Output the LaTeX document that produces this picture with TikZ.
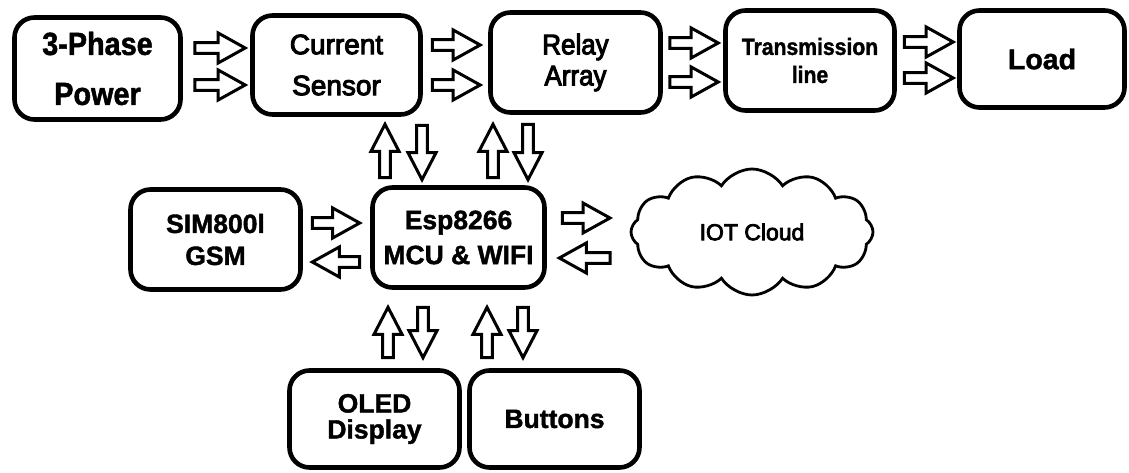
\documentclass[tikz,border=0pt]{standalone}
\usepackage{fontspec}
\setmainfont{Liberation Sans}
\newfontface\rfc{Liberation Sans}[FakeBold=3.5]
\newfontface\rfcn{Liberation Sans}[FakeBold=3.5, FakeStretch=0.91]
\newfontface\bfc{Liberation Sans Bold}[FakeBold=1.5]
\newfontface\bfcn{Liberation Sans Bold}[FakeBold=1.5, FakeStretch=0.9]
\usetikzlibrary{calc,shapes.symbols}
\tikzset{
  box/.style={draw, line width=4.6pt, rounded corners=20pt, inner sep=0pt, align=center},
  barrow/.style={draw, line width=3pt, fill=white, line join=miter, miter limit=10},
  fb/.style={font=\bfc\fontsize{#1}{#1}\selectfont},
  fbn/.style={font=\bfcn\fontsize{#1}{#1}\selectfont},
  fr/.style={font=\rfc\fontsize{#1}{#1}\selectfont},
  frn/.style={font=\rfcn\fontsize{#1}{#1}\selectfont},
}
% horizontal hollow block arrow: tip at x of #2, y of #1
\newcommand\harr[2]{\draw[barrow] let \p1=#1, \p2=#2, \n1={sign(\x2-\x1)*27pt} in
  (\x1,{\y1-5.3pt}) -- ({\x2-(\n1)},{\y1-5.3pt}) -- ({\x2-(\n1)},{\y1-15pt}) -- (\x2,\y1)
  -- ({\x2-(\n1)},{\y1+15pt}) -- ({\x2-(\n1)},{\y1+5.3pt}) -- (\x1,{\y1+5.3pt}) -- cycle;}
% vertical hollow block arrow: tip at y of #2, x of #1
\newcommand\varr[2]{\draw[barrow] let \p1=#1, \p2=#2, \n1={sign(\y2-\y1)*27pt} in
  ({\x1-5.3pt},\y1) -- ({\x1-5.3pt},{\y2-(\n1)}) -- ({\x1-14pt},{\y2-(\n1)}) -- (\x1,\y2)
  -- ({\x1+14pt},{\y2-(\n1)}) -- ({\x1+5.3pt},{\y2-(\n1)}) -- ({\x1+5.3pt},\y1) -- cycle;}
\begin{document}
\begin{tikzpicture}[x=1pt,y=1pt]
\useasboundingbox[fill=white] (0,0) rectangle (1129,-473);
% top row
\node[box, minimum width=166pt, minimum height=102pt, fbn=32, execute at begin node={\setlength{\baselineskip}{50pt}}] (pw) at (97.5,-68.5) {3-Phase\\Power};
\node[box, minimum width=168pt, minimum height=99pt, fr=28, execute at begin node={\setlength{\baselineskip}{41pt}}] (cs) at (336.5,-65) {Current\\Sensor};
\node[box, minimum width=170pt, minimum height=100pt, frn=28.5, execute at begin node={\setlength{\baselineskip}{31pt}}] (ra) at (575.5,-62.5) {Relay\\Array};
\node[box, minimum width=169pt, minimum height=100pt, fbn=23.5, execute at begin node={\setlength{\baselineskip}{28pt}}] (tl) at (810,-60.5) {Transmission\\line};
\node[box, minimum width=165pt, minimum height=97pt, fb=28.5] (ld) at (1042,-59) {Load};
% middle row
\node[box, minimum width=170pt, minimum height=100pt, fb=26.5, execute at begin node={\setlength{\baselineskip}{32pt}}] (sim) at (215.5,-239.5) {SIM800l\\GSM};
\node[box, minimum width=172pt, minimum height=100pt, fb=26.5, execute at begin node={\setlength{\baselineskip}{35pt}}] (esp) at (458.5,-237.5) {Esp8266\\MCU \& WIFI};
\node[cloud, draw, line width=2.8pt, cloud puffs=12, cloud puff arc=115, aspect=1.9, minimum width=242pt, minimum height=126pt, inner sep=0pt, fr=23] (cloud) at (752,-232) {IOT Cloud};
% bottom row
\node[box, minimum width=170pt, minimum height=97pt, fb=26.5, execute at begin node={\setlength{\baselineskip}{26pt}}] (oled) at (374.5,-419) {OLED\\Display};
\node[box, minimum width=170pt, minimum height=97pt, fb=26.5] (btn) at (554.5,-419) {Buttons};
% top row arrows
\harr{($(pw.east)+(12,20.5)$)}{($(cs.west)+(-5,0)$)}
\harr{($(pw.east)+(12,-16.5)$)}{($(cs.west)+(-5,0)$)}
\harr{($(cs.east)+(9.5,20)$)}{($(ra.west)+(-8,0)$)}
\harr{($(cs.east)+(9.5,-20)$)}{($(ra.west)+(-8,0)$)}
\harr{($(ra.east)+(7,19.5)$)}{($(tl.west)+(-5,0)$)}
\harr{($(ra.east)+(7,-19.5)$)}{($(tl.west)+(-5,0)$)}
\harr{($(tl.east)+(7.5,18.5)$)}{($(ld.west)+(-4,0)$)}
\harr{($(tl.east)+(7.5,-17.5)$)}{($(ld.west)+(-4,0)$)}
% esp <-> top
\varr{($(esp.north)+(-73.5,7.5)$)}{($(cs.south)+(0,-7.5)$)}
\varr{($(cs.south)+(85.5,-8.5)$)}{($(esp.north)+(0,5.5)$)}
\varr{($(esp.north)+(34.5,7.5)$)}{($(ra.south)+(0,-9.5)$)}
\varr{($(ra.south)+(-47.5,-9.5)$)}{($(esp.north)+(0,5.5)$)}
% sim <-> esp
\harr{($(sim.east)+(9.5,16.5)$)}{($(esp.west)+(-10.5,0)$)}
\harr{($(esp.west)+(-10.5,-24.5)$)}{($(sim.east)+(9.5,0)$)}
% esp <-> cloud
\harr{($(esp.east)+(15.5,19.5)$)}{($(cloud.center)+(-142,0)$)}
\harr{($(cloud.center)+(-142,-26)$)}{($(esp.east)+(12.5,0)$)}
% esp <-> bottom
\varr{($(oled.north)+(13.5,10.5)$)}{($(esp.south)+(0,-17.5)$)}
\varr{($(esp.south)+(-35.5,-17.5)$)}{($(oled.north)+(0,10.5)$)}
\varr{($(btn.north)+(-67.5,10.5)$)}{($(esp.south)+(0,-17.5)$)}
\varr{($(esp.south)+(64.5,-17.5)$)}{($(btn.north)+(0,10.5)$)}
\end{tikzpicture}
\end{document}
